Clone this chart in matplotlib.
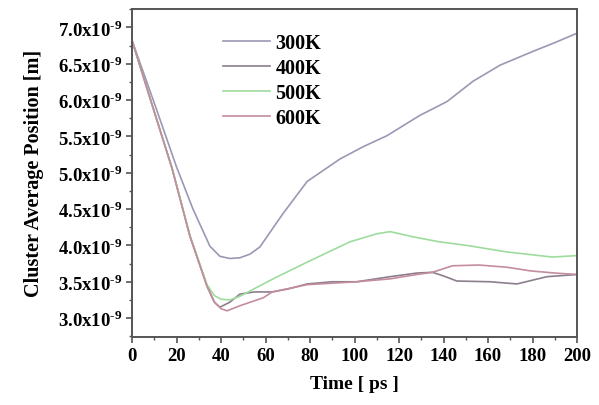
import matplotlib
matplotlib.use("Agg")
import matplotlib.pyplot as plt
from matplotlib.ticker import MultipleLocator, FuncFormatter

plt.rcParams['font.family'] = ['Liberation Serif', 'DejaVu Serif']
plt.rcParams['font.weight'] = 'bold'
plt.rcParams['mathtext.fontset'] = 'custom'
plt.rcParams['mathtext.rm'] = 'Liberation Serif:bold'
plt.rcParams['mathtext.bf'] = 'Liberation Serif:bold'

# positions in units of 1e-9 m
t_300 = [0, 10, 20, 27.4, 35, 39.5, 44, 48.5, 53, 57.5, 67.9, 78.7, 93.5, 104, 114.6, 129.4, 141.6, 153.3, 165.4, 180.2, 190, 200]
pos_300 = [6.82, 5.96, 5.08, 4.50, 3.99, 3.85, 3.82, 3.83, 3.88, 3.98, 4.44, 4.88, 5.19, 5.36, 5.51, 5.79, 5.98, 6.26, 6.48, 6.67, 6.79, 6.92]

t_400 = [0, 10, 18, 26, 33.7, 37, 39.5, 44, 48.5, 55, 63, 70, 78.7, 90, 101, 116, 128, 135, 140, 146, 161, 173, 186.5, 200]
pos_400 = [6.82, 5.84, 5.06, 4.13, 3.44, 3.22, 3.15, 3.22, 3.33, 3.36, 3.36, 3.40, 3.47, 3.50, 3.50, 3.57, 3.62, 3.63, 3.58, 3.51, 3.50, 3.47, 3.57, 3.60]

t_500 = [0, 10, 18, 26, 33.7, 37, 40, 44, 48.5, 63.4, 78.7, 98, 110, 116, 126, 138, 150.5, 168.5, 189, 200]
pos_500 = [6.82, 5.84, 5.06, 4.14, 3.46, 3.31, 3.26, 3.25, 3.30, 3.54, 3.77, 4.05, 4.16, 4.19, 4.12, 4.05, 4.00, 3.91, 3.84, 3.86]

t_600 = [0, 10, 18, 26, 33.7, 37, 40, 42.7, 48.5, 59, 63, 78.7, 101, 116, 128, 135, 144, 156, 168.5, 179, 190, 200]
pos_600 = [6.82, 5.84, 5.06, 4.13, 3.44, 3.22, 3.13, 3.10, 3.17, 3.28, 3.36, 3.46, 3.50, 3.54, 3.60, 3.63, 3.72, 3.73, 3.70, 3.65, 3.62, 3.60]

labels = ['300K', '400K', '500K', '600K']
colors = ['#9a98b4', '#8c7e8e', '#9edc9e', '#c48c9c']

fig = plt.figure(figsize=(5.99, 4.06), dpi=100)
ax = fig.add_axes([0.2204, 0.1675, 0.7429, 0.8091])

series = [(t_300, pos_300), (t_400, pos_400), (t_500, pos_500), (t_600, pos_600)]
for (t, p), lab, c in zip(series, labels, colors):
    ax.plot(t, p, color=c, lw=1.2, label=lab)

ax.set_xlim(0, 200)
ax.set_ylim(2.74, 7.26)
ax.xaxis.set_major_locator(MultipleLocator(20))
ax.xaxis.set_minor_locator(MultipleLocator(10))
ax.yaxis.set_major_locator(MultipleLocator(0.5))
ax.yaxis.set_minor_locator(MultipleLocator(0.25))
ax.yaxis.set_major_formatter(FuncFormatter(lambda v, p: r'%.1fx10$^{\text{-9}}$' % v))

for s in ax.spines.values():
    s.set_color('#555555')
    s.set_linewidth(1.4)
ax.tick_params(which='major', direction='out', length=4, width=1.2, color='#555555', labelsize=13.5, pad=3)
ax.tick_params(which='minor', direction='out', length=2.5, width=1, color='#555555')

ax.set_xlabel('Time [ ps ]', fontsize=14, fontweight='bold', labelpad=8)
ax.set_ylabel('Cluster Average Position [m]', fontsize=14.5, fontweight='bold', labelpad=10)

leg = ax.legend(loc='upper left', bbox_to_anchor=(0.205, 0.925), frameon=False,
                fontsize=14.5, handlelength=2.3, handletextpad=0.3, labelspacing=0.25,
                borderpad=0, borderaxespad=0)
for txt in leg.get_texts():
    txt.set_fontweight('bold')

fig.savefig('out.png', dpi=100)
